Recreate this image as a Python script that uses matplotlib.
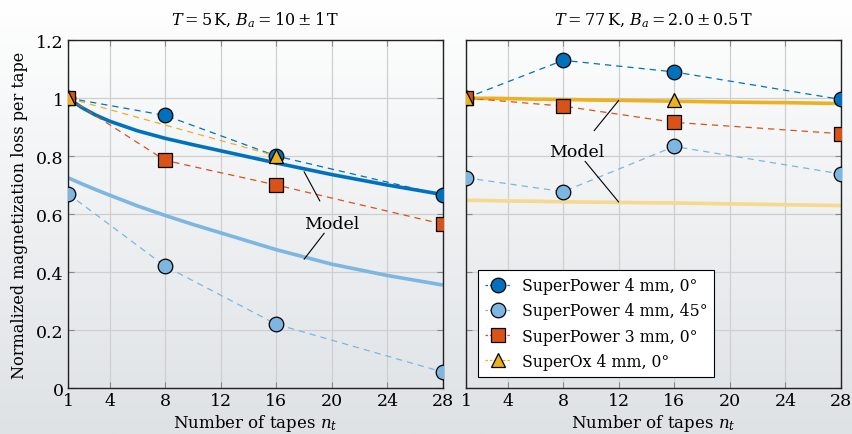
import numpy as np
import matplotlib
matplotlib.use("Agg")
import matplotlib.pyplot as plt
from matplotlib.colors import LinearSegmentedColormap
from matplotlib.lines import Line2D

plt.rcParams['font.family'] = ['DejaVu Serif']
plt.rcParams['mathtext.fontset'] = 'dejavuserif'
plt.rcParams['font.size'] = 12

# Measured tape counts
n_meas = [1, 8, 16, 28]
n_ox = [1, 16]

# T = 5 K, Ba = 10 +/- 1 T
sp4_0_5k = [1.0, 0.94, 0.80, 0.665]
sp4_45_5k = [0.67, 0.42, 0.22, 0.055]
sp3_0_5k = [1.0, 0.785, 0.70, 0.565]
ox4_0_5k = [1.0, 0.80]

# T = 77 K, Ba = 2.0 +/- 0.5 T
sp4_0_77k = [1.0, 1.13, 1.09, 0.995]
sp4_45_77k = [0.725, 0.677, 0.833, 0.738]
sp3_0_77k = [1.0, 0.972, 0.916, 0.877]
ox4_0_77k = [1.0, 0.992]

# Model curves
n_model = [1, 2, 3, 4, 6, 8, 10, 12, 16, 20, 24, 28]
model_0_5k = [1.0, 0.967, 0.941, 0.920, 0.887, 0.861, 0.839, 0.818, 0.776, 0.736, 0.700, 0.667]
model_45_5k = [0.725, 0.704, 0.684, 0.665, 0.628, 0.595, 0.564, 0.535, 0.477, 0.427, 0.388, 0.355]
model_0_77k = [1.0, 0.999, 0.999, 0.998, 0.996, 0.995, 0.993, 0.992, 0.989, 0.986, 0.984, 0.981]
model_45_77k = [0.647, 0.647, 0.646, 0.645, 0.644, 0.642, 0.641, 0.640, 0.638, 0.635, 0.632, 0.629]

xticks = [1, 4, 8, 12, 16, 20, 24, 28]
yticks = [0, 0.2, 0.4, 0.6, 0.8, 1.0, 1.2]
ytick_labels = ["0", "0.2", "0.4", "0.6", "0.8", "1", "1.2"]

labels = ["SuperPower 4 mm, 0°", "SuperPower 4 mm, 45°",
          "SuperPower 3 mm, 0°", "SuperOx 4 mm, 0°"]

c_blue = "#0072BD"
c_lblue = "#7DB6E1"
c_red = "#D95319"
c_yel = "#EDB120"
c_lyel = "#F6D88E"

fig = plt.figure(figsize=(8.53, 4.35), dpi=100)

# vertical background gradient
bg = fig.add_axes([0, 0, 1, 1], zorder=-10)
cmap = LinearSegmentedColormap.from_list("bg", ["#ffffff", "#dee2e5"])
bg.imshow(np.linspace(0, 1, 256).reshape(-1, 1), aspect="auto", cmap=cmap,
          extent=[0, 1, 0, 1], origin="upper")
bg.set_axis_off()

ax1 = fig.add_axes([0.0797, 0.1057, 0.4396, 0.8])
ax2 = fig.add_axes([0.5463, 0.1057, 0.4396, 0.8])

ms = 10.5
dash = dict(linestyle=(0, (5, 4)), linewidth=0.9)


def series(ax, x, y, color, marker):
    ax.plot(x, y, color=color, zorder=3, **dash)
    ax.plot(x, y, linestyle="none", marker=marker, markersize=ms,
            markerfacecolor=color, markeredgecolor="black",
            markeredgewidth=0.9, zorder=5)


for ax in (ax1, ax2):
    ax.set_facecolor("none")
    ax.set_xlim(1, 28)
    ax.set_ylim(0, 1.2)
    ax.set_xticks(xticks)
    ax.set_yticks(yticks)
    ax.grid(True, color="#cfcfcf", linewidth=0.9, zorder=0)
    ax.tick_params(direction="in", top=True, right=True, length=4,
                   color="#888888", labelsize=12.5, pad=3)
    for s in ax.spines.values():
        s.set_color("#222222")
        s.set_linewidth(1.0)
    ax.set_xlabel("Number of tapes $n_t$", fontsize=12, labelpad=2)

ax1.set_yticklabels(ytick_labels)
ax2.set_yticklabels([])
ax1.set_ylabel("Normalized magnetization loss per tape", fontsize=11.6, labelpad=6)

ax1.set_title(r"$T = 5\,\mathrm{K}$, $B_a = 10 \pm 1\,\mathrm{T}$", fontsize=11.5, pad=11)
ax2.set_title(r"$T = 77\,\mathrm{K}$, $B_a = 2.0 \pm 0.5\,\mathrm{T}$", fontsize=11.5, pad=11)

line_kw = dict(arrowstyle="-", color="black", lw=0.8, shrinkB=0)
model_kw = dict(linewidth=2.6, zorder=2, solid_joinstyle="round", solid_capstyle="butt")

# left panel
ax1.plot(n_model, model_0_5k, color=c_blue, **model_kw)
ax1.plot(n_model, model_45_5k, color=c_lblue, **model_kw)
series(ax1, n_meas, sp4_0_5k, c_blue, "o")
series(ax1, n_meas, sp4_45_5k, c_lblue, "o")
series(ax1, n_meas, sp3_0_5k, c_red, "s")
series(ax1, n_ox, ox4_0_5k, c_yel, "^")

ax1.annotate("Model", xy=(18, 0.746), xytext=(20, 0.568), ha="center", va="center",
             fontsize=12.5, arrowprops=dict(shrinkA=9, **line_kw))
ax1.annotate("", xy=(18, 0.444), xytext=(20, 0.568),
             arrowprops=dict(shrinkA=9, **line_kw))

# right panel
ax2.plot(n_model, model_0_77k, color=c_yel, **model_kw)
ax2.plot(n_model, model_45_77k, color=c_lyel, **model_kw)
series(ax2, n_meas, sp4_0_77k, c_blue, "o")
series(ax2, n_meas, sp4_45_77k, c_lblue, "o")
series(ax2, n_meas, sp3_0_77k, c_red, "s")
series(ax2, n_ox, ox4_0_77k, c_yel, "^")

ax2.annotate("Model", xy=(12, 0.992), xytext=(9, 0.815), ha="center", va="center",
             fontsize=12.5, arrowprops=dict(shrinkA=9, **line_kw))
ax2.annotate("", xy=(12, 0.641), xytext=(9, 0.815),
             arrowprops=dict(shrinkA=9, **line_kw))

# legend entries: short dashes around each marker
handles = []
for col, mk in [(c_blue, "o"), (c_lblue, "o"), (c_red, "s"), (c_yel, "^")]:
    handles.append(Line2D([], [], color=col, linestyle=(0, (2, 1.5)), linewidth=0.9,
                          marker=mk, markersize=ms, markerfacecolor=col,
                          markeredgecolor="black", markeredgewidth=0.9))
leg = ax2.legend(handles, labels, loc="lower left", bbox_to_anchor=(0.031, 0.032),
                 borderaxespad=0, fontsize=11.3, frameon=True, fancybox=False,
                 framealpha=1, edgecolor="black", handlelength=1.7,
                 handletextpad=0.65, labelspacing=0.52, borderpad=0.45)
leg.get_frame().set_linewidth(0.8)
leg.set_zorder(10)

fig.savefig("out.png", dpi=100)
